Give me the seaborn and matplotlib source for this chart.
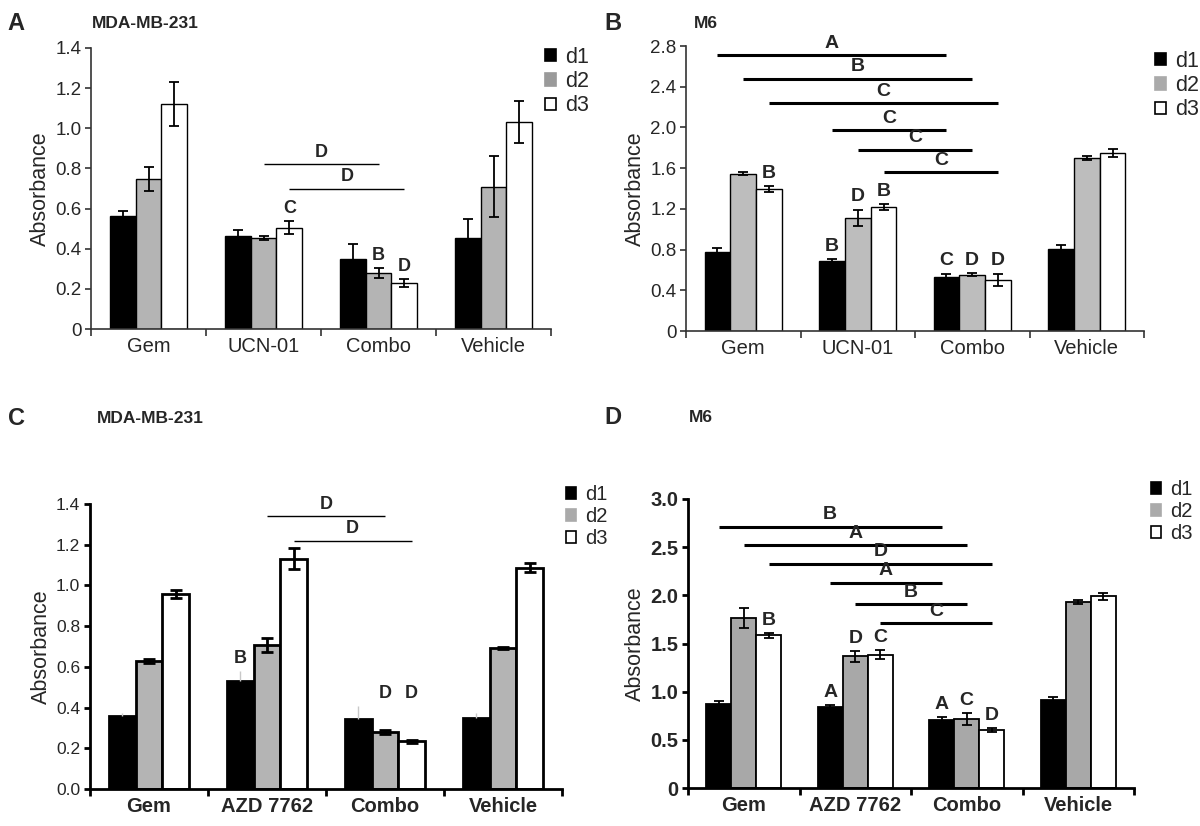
import numpy as np
import pandas as pd
import seaborn as sns
import matplotlib
matplotlib.use("Agg")
import matplotlib.pyplot as plt
from matplotlib.patches import Patch
from matplotlib.ticker import FuncFormatter, FixedLocator

DAYS = ["d1", "d2", "d3"]
UCN_GROUPS = ["Gem", "UCN-01", "Combo", "Vehicle"]
AZD_GROUPS = ["Gem", "AZD 7762", "Combo", "Vehicle"]

# A: MDA-MB-231 with UCN-01
a_d1 = [0.563, 0.464, 0.348, 0.452]
a_d2 = [0.749, 0.454, 0.278, 0.709]
a_d3 = [1.123, 0.504, 0.229, 1.032]
a_d1_err = [0.027, 0.030, 0.073, 0.098]
a_d2_err = [0.060, 0.010, 0.026, 0.153]
a_d3_err = [0.110, 0.033, 0.020, 0.104]
a_letters = [("UCN-01", "d3", "C", "d3"), ("Combo", "d2", "B", "d2"),
             ("Combo", "d3", "D", "d3")]
a_brackets = [("UCN-01", "Combo", "d2", 0.82, "D"),
              ("UCN-01", "Combo", "d3", 0.70, "D")]

# B: M6 with UCN-01
b_d1 = [0.778, 0.683, 0.535, 0.808]
b_d2 = [1.546, 1.113, 0.552, 1.697]
b_d3 = [1.392, 1.218, 0.502, 1.750]
b_d1_err = [0.035, 0.025, 0.028, 0.040]
b_d2_err = [0.015, 0.080, 0.015, 0.020]
b_d3_err = [0.030, 0.025, 0.055, 0.038]
b_letters = [("Gem", "d3", "B", "d3"), ("UCN-01", "d1", "B", "d1"),
             ("UCN-01", "d2", "D", "d2"), ("UCN-01", "d3", "B", "d3"),
             ("Combo", "d1", "C", "d2"), ("Combo", "d2", "D", "d2"),
             ("Combo", "d3", "D", "d2")]
b_brackets = [("Gem", "Combo", "d1", 2.71, "A"),
              ("Gem", "Combo", "d2", 2.48, "B"),
              ("Gem", "Combo", "d3", 2.24, "C"),
              ("UCN-01", "Combo", "d1", 1.97, "C"),
              ("UCN-01", "Combo", "d2", 1.78, "C"),
              ("UCN-01", "Combo", "d3", 1.56, "C")]

# C: MDA-MB-231 with AZD 7762
c_d1 = [0.361, 0.532, 0.343, 0.348]
c_d2 = [0.630, 0.708, 0.280, 0.695]
c_d3 = [0.957, 1.132, 0.234, 1.088]
c_d1_err = [0.010, 0.046, 0.066, 0.025]
c_d2_err = [0.010, 0.033, 0.010, 0.005]
c_d3_err = [0.020, 0.052, 0.008, 0.020]
c_letters = [("AZD 7762", "d1", "B", "d1"), ("Combo", "d2", "D", "d1"),
             ("Combo", "d3", "D", "d1")]
c_brackets = [("AZD 7762", "Combo", "d2", 1.34, "D"),
              ("AZD 7762", "Combo", "d3", 1.22, "D")]

# D: M6 with AZD 7762
d_d1 = [0.875, 0.837, 0.709, 0.910]
d_d2 = [1.765, 1.367, 0.716, 1.931]
d_d3 = [1.585, 1.384, 0.606, 1.990]
d_d1_err = [0.030, 0.025, 0.030, 0.030]
d_d2_err = [0.100, 0.055, 0.060, 0.020]
d_d3_err = [0.026, 0.045, 0.020, 0.035]
d_letters = [("Gem", "d3", "B", "d3"), ("AZD 7762", "d1", "A", "d1"),
             ("AZD 7762", "d2", "D", "d2"), ("AZD 7762", "d3", "C", "d3"),
             ("Combo", "d1", "A", "d1"), ("Combo", "d2", "C", "d2"),
             ("Combo", "d3", "D", "d3")]
d_brackets = [("Gem", "Combo", "d1", 2.71, "B"),
              ("Gem", "Combo", "d2", 2.52, "A"),
              ("Gem", "Combo", "d3", 2.33, "D"),
              ("AZD 7762", "Combo", "d1", 2.13, "A"),
              ("AZD 7762", "Combo", "d2", 1.91, "B"),
              ("AZD 7762", "Combo", "d3", 1.71, "C")]


def draw_panel(ax, groups, means, errs, letters, brackets, yticks, fmt, st):
    df = pd.DataFrame([(g, d, v) for d, vals in zip(DAYS, means)
                       for g, v in zip(groups, vals)],
                      columns=["treatment", "day", "absorbance"])
    sns.barplot(data=df, x="treatment", y="absorbance", hue="day",
                order=groups, hue_order=DAYS, palette=st["colors"],
                width=0.675, gap=0, saturation=1, errorbar=None,
                edgecolor="black", linewidth=st["bar_lw"], legend=False,
                ax=ax, zorder=2)

    bars = {}
    for d, cont, err in zip(DAYS, ax.containers, errs):
        for g, patch, e in zip(groups, cont, err):
            bars[g, d] = (patch.get_x() + patch.get_width() / 2,
                          patch.get_height(), e)

    for d, err in zip(DAYS, errs):
        xs = [bars[g, d][0] for g in groups]
        ys = [bars[g, d][1] for g in groups]
        if d == "d1" and st.get("faint_d1", False):
            # faint, upper-only error bars on the black d1 bars
            ax.errorbar(xs, ys, yerr=[[0] * len(err), err], fmt="none",
                        ecolor="#c8c8c8", elinewidth=1.0, capsize=0,
                        zorder=3)
            continue
        ax.errorbar(xs, ys, yerr=err, fmt="none", ecolor="black",
                    elinewidth=st["err_lw"], capsize=st["capsize"],
                    capthick=st["err_lw"], zorder=3)

    for g, d, txt, anchor in letters:
        _, h, e = bars[g, anchor]
        ax.annotate(txt, (bars[g, d][0], h + e), xytext=(0, 3),
                    textcoords="offset points", ha="center", va="bottom",
                    fontsize=st["letter_fs"], fontweight="bold")

    for g1, g2, d, y, txt in brackets:
        x1, x2 = bars[g1, d][0], bars[g2, d][0]
        ax.plot([x1, x2], [y, y], color="black", lw=st["bracket_lw"],
                solid_capstyle="butt", zorder=3)
        ax.annotate(txt, ((x1 + x2) / 2, y), xytext=(0, 2.5),
                    textcoords="offset points", ha="center", va="bottom",
                    fontsize=st["letter_fs"], fontweight="bold")

    ax.set_xlim(-0.5, 3.5)
    ax.set_ylim(0, yticks[-1])
    ax.set_yticks(yticks)
    ax.yaxis.set_major_formatter(FuncFormatter(fmt))
    ax.set_xticks(range(len(groups)))
    ax.set_xticklabels(groups, fontsize=st["xlab_fs"],
                       fontweight=st["xlab_fw"])
    ax.xaxis.set_minor_locator(FixedLocator([-0.5, 0.5, 1.5, 2.5, 3.5]))
    ax.tick_params(axis="x", which="major", length=0, pad=6)
    ax.tick_params(axis="x", which="minor", length=5, width=st["spine_lw"],
                   direction="out", color=st["spine_c"])
    ax.tick_params(axis="y", length=4, width=st["spine_lw"], direction="out",
                   labelsize=st["ytick_fs"], color=st["spine_c"], pad=3)
    for lab in ax.get_yticklabels():
        lab.set_fontweight(st["ytick_fw"])
    ax.set_xlabel("")
    ax.set_ylabel("Absorbance", fontsize=15.5, labelpad=3)
    sns.despine(ax=ax)
    for side in ("left", "bottom"):
        ax.spines[side].set_linewidth(st["spine_lw"])
        ax.spines[side].set_color(st["spine_c"])


def add_legend(fig, x, y, colors, fs, lw):
    handles = [Patch(facecolor=c, edgecolor="black" if c == "white" else c,
                     linewidth=lw) for c in colors]
    fig.legend(handles, DAYS, loc="upper left", bbox_to_anchor=(x, y),
               frameon=False, fontsize=fs, handlelength=0.5,
               handleheight=0.5, handletextpad=0.45, labelspacing=0.15,
               borderpad=0, borderaxespad=0)


zero_fmt = lambda v, p: "0" if v == 0 else f"{v:.1f}"
one_fmt = lambda v, p: f"{v:.1f}"

sns.set_style("ticks")
plt.rcParams["font.family"] = ["Liberation Sans", "DejaVu Sans"]

W, H = 1200, 826
fig = plt.figure(figsize=(12, 8.26), dpi=100)


def box(left, right, top, bottom):
    return [left / W, 1 - bottom / H, (right - left) / W, (bottom - top) / H]


thin = dict(bar_lw=1.0, err_lw=1.3, capsize=3.5, bracket_lw=1.0,
            spine_lw=1.2, spine_c="#333333", xlab_fs=14.5, xlab_fw="normal",
            ytick_fs=13.5, ytick_fw="normal")

ax_a = fig.add_axes(box(91, 551, 48, 329))
draw_panel(ax_a, UCN_GROUPS, [a_d1, a_d2, a_d3], [a_d1_err, a_d2_err, a_d3_err],
           a_letters, a_brackets, np.arange(0, 1.41, 0.2), zero_fmt,
           dict(thin, colors=["black", "#b4b4b4", "white"], letter_fs=13))

ax_b = fig.add_axes(box(686, 1144, 46, 331))
draw_panel(ax_b, UCN_GROUPS, [b_d1, b_d2, b_d3], [b_d1_err, b_d2_err, b_d3_err],
           b_letters, b_brackets, np.arange(0, 2.81, 0.4), zero_fmt,
           dict(thin, colors=["black", "#bdbdbd", "white"], letter_fs=14,
                bracket_lw=2.2))

thick = dict(bar_lw=2.0, err_lw=2.0, capsize=4, bracket_lw=1.0,
             spine_lw=2.0, spine_c="black", xlab_fs=14.5, xlab_fw="bold",
             ytick_fs=12.5, ytick_fw="normal")

ax_c = fig.add_axes(box(90, 562, 504, 789))
draw_panel(ax_c, AZD_GROUPS, [c_d1, c_d2, c_d3], [c_d1_err, c_d2_err, c_d3_err],
           c_letters, c_brackets, np.arange(0, 1.41, 0.2), one_fmt,
           dict(thick, colors=["black", "#b4b4b4", "white"], letter_fs=13,
                faint_d1=True))

ax_d = fig.add_axes(box(688, 1134, 499, 788))
draw_panel(ax_d, AZD_GROUPS, [d_d1, d_d2, d_d3], [d_d1_err, d_d2_err, d_d3_err],
           d_letters, d_brackets, np.arange(0, 3.01, 0.5), zero_fmt,
           dict(thick, colors=["black", "#a8a8a8", "white"], letter_fs=14,
                bar_lw=1.3, err_lw=1.3, capsize=3.5, bracket_lw=2.2,
                ytick_fs=14.5, ytick_fw="bold"))

add_legend(fig, 545 / W, 1 - 47 / H, ["black", "#9a9a9a", "white"], 15.5, 1.2)
add_legend(fig, 1155 / W, 1 - 51 / H, ["black", "#aaaaaa", "white"], 15.5, 1.2)
add_legend(fig, 566 / W, 1 - 485 / H, ["black", "#aaaaaa", "white"], 14.5, 1.2)
add_legend(fig, 1151 / W, 1 - 480 / H, ["black", "#aaaaaa", "white"], 14.5, 1.2)

panels = [(7, 23, "A", 92, "MDA-MB-231"), (604, 23, "B", 694, "M6"),
          (8, 419, "C", 97, "MDA-MB-231"), (604, 418, "D", 689, "M6")]
for lx, ly, letter, tx, title in panels:
    fig.text(lx / W, 1 - ly / H, letter, fontsize=17, fontweight="bold",
             va="center", ha="left")
    fig.text(tx / W, 1 - ly / H, title, fontsize=12.5, fontweight="bold",
             va="center", ha="left")

fig.savefig("out.png", dpi=100)
